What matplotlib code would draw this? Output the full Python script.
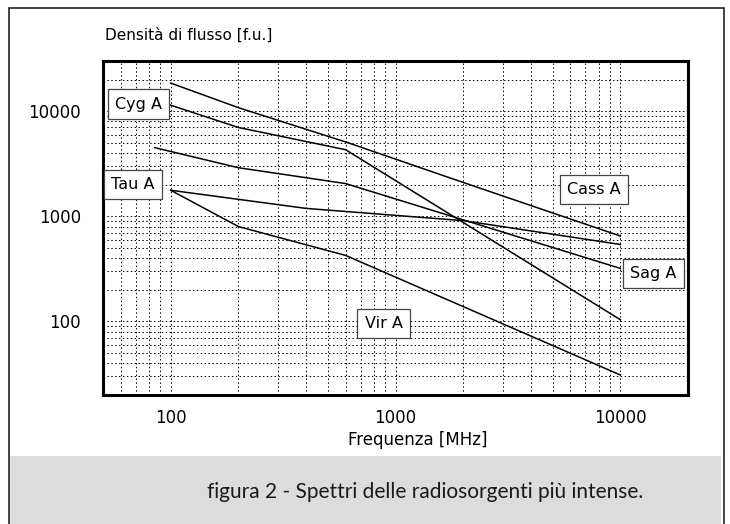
import matplotlib.pyplot as plt
from matplotlib.patches import Rectangle
from matplotlib.ticker import FixedLocator, LogLocator, NullFormatter

# spettri (frequenza in MHz, densita' di flusso in f.u.)
freq_cas = [100, 200, 600, 2000, 10000]
flux_cas = [18500, 10800, 5100, 2100, 650]

freq_cyg = [100, 200, 600, 10000]
flux_cyg = [11400, 7000, 4300, 104]

freq_sag = [85, 200, 600, 10000]
flux_sag = [4500, 2900, 2050, 320]

freq_tau = [100, 400, 2000, 10000]
flux_tau = [1770, 1190, 910, 540]

freq_vir = [100, 200, 600, 10000]
flux_vir = [1770, 800, 425, 31]

x_ticks = [100, 1000, 10000]
y_ticks = [100, 1000, 10000]

# etichette delle sorgenti: (testo, frequenza, flusso)
labels = [
    ("Cyg A", 72, 11700),
    ("Tau A", 68, 2020),
    ("Cass A", 7600, 1810),
    ("Sag A", 14000, 286),
    ("Vir A", 885, 96),
]

W, H = 730, 524
fig = plt.figure(figsize=(W / 100, H / 100), dpi=100)
fig.patch.set_facecolor("white")

# cornice e fascia della didascalia
fig.add_artist(Rectangle((10 / W, 1 - 524 / H), 711 / W, 68 / H,
                         transform=fig.transFigure, facecolor="#dcdcdc",
                         edgecolor="none"))
fig.add_artist(Rectangle((9 / W, 1 - 530 / H), 715 / W, 522 / H,
                         transform=fig.transFigure, fill=False,
                         edgecolor="#222222", linewidth=1.2))

ax = fig.add_axes([103 / W, 1 - 395 / H, 585 / W, 334 / H])
ax.set_xscale("log")
ax.set_yscale("log")
ax.set_xlim(50, 20000)
ax.set_ylim(20, 30000)

for f, s in [(freq_cas, flux_cas), (freq_cyg, flux_cyg), (freq_sag, flux_sag),
             (freq_tau, flux_tau), (freq_vir, flux_vir)]:
    ax.plot(f, s, color="black", linewidth=1.1, zorder=3)

ax.xaxis.set_major_locator(FixedLocator(x_ticks))
ax.yaxis.set_major_locator(FixedLocator(y_ticks))
ax.xaxis.set_minor_locator(LogLocator(base=10, subs=range(2, 10)))
ax.yaxis.set_minor_locator(LogLocator(base=10, subs=range(2, 10)))
ax.xaxis.set_minor_formatter(NullFormatter())
ax.yaxis.set_minor_formatter(NullFormatter())
ax.set_xticklabels([str(v) for v in x_ticks])
ax.set_yticklabels([str(v) for v in y_ticks])
ax.tick_params(which="both", length=0, labelsize=12)
ax.tick_params(axis="x", pad=10)
ax.tick_params(axis="y", pad=16)

ax.grid(which="both", color="black", linestyle=(0, (1.5, 2.5)), linewidth=0.7)
for sp in ax.spines.values():
    sp.set_linewidth(2.2)

for text, fx, fy in labels:
    ax.text(fx, fy, text, ha="center", va="center", fontsize=11.5, zorder=5,
            bbox=dict(boxstyle="square,pad=0.45", facecolor="white",
                      edgecolor="#444444", linewidth=0.9))

fig.text(105 / W, 1 - 35 / H, "Densità di flusso [f.u.]", ha="left",
         va="center", fontsize=11)
fig.text(418 / W, 1 - 440 / H, "Frequenza [MHz]", ha="center", va="center",
         fontsize=12)
fig.text(425 / W, 1 - 492 / H,
         "figura 2 - Spettri delle radiosorgenti più intense.",
         ha="center", va="center", fontsize=15, family="Lato",
         color="#1a1a1a")

fig.savefig("out.png", dpi=100)
